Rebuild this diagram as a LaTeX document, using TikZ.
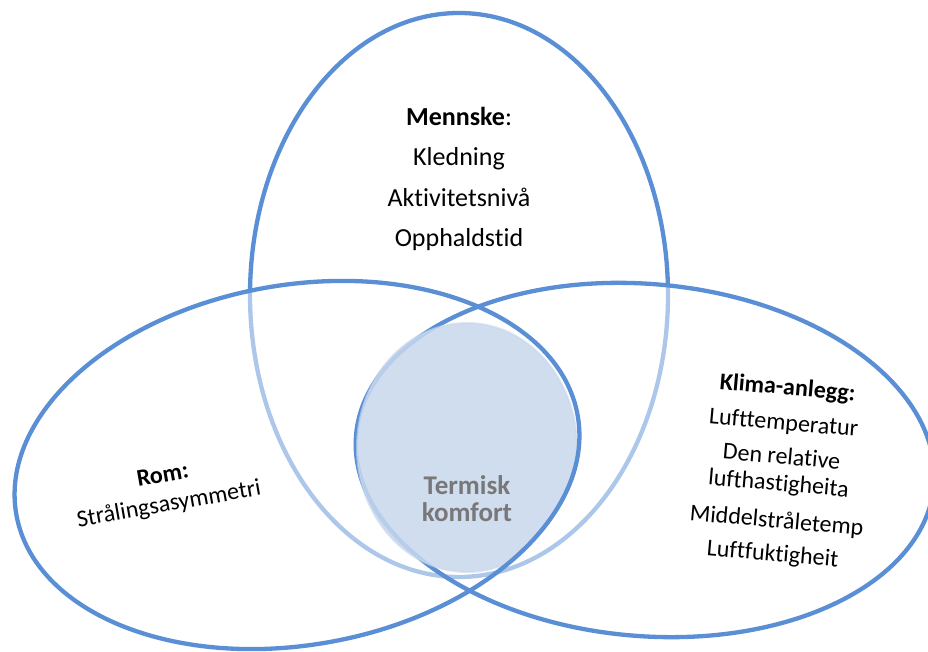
\documentclass[tikz,border=0pt]{standalone}
\usepackage{fontspec}
\setmainfont{Carlito}[Ligatures=NoCommon]
\definecolor{vblue}{RGB}{90,143,214}
\definecolor{cfill}{RGB}{200,216,237}
\definecolor{tgray}{RGB}{120,120,120}
\begin{document}
\begin{tikzpicture}[x=1pt,y=-1pt,
  ring/.style={draw=vblue, line width=4.3pt},
  bigtxt/.style={font=\fontsize{26}{30}\selectfont, inner sep=0pt, anchor=base},
  smalltxt/.style={font=\fontsize{24}{28}\selectfont, inner sep=0pt, anchor=base},
  comftxt/.style={font=\fontsize{27}{28}\selectfont\bfseries, text=tgray, inner sep=0pt, anchor=base}]
\useasboundingbox (0,0) rectangle (928,652);
\fill[white] (0,0) rectangle (928,652);
% top ellipse (Mennske)
\draw[ring] (459,295) ellipse [x radius=209, y radius=282];
% translucent white fill of the two lower ellipses
\fill[white, fill opacity=0.5]
  (297,465) ellipse [x radius=285, y radius=180, rotate=10]
  (645,460) ellipse [x radius=290, y radius=176, rotate=-5];
% right ellipse (Klima-anlegg)
\draw[ring] (645,460) ellipse [x radius=290, y radius=176, rotate=-5];
% centre circle
\begin{scope}
  \clip (297,465) ellipse [x radius=287, y radius=182, rotate=10];
  \fill[cfill, fill opacity=0.85, draw=cfill, draw opacity=0.6, line width=2pt]
    (467,447.5) ellipse [x radius=110, y radius=124.5];
\end{scope}
% left ellipse (Rom)
\draw[ring] (297,465) ellipse [x radius=285, y radius=180, rotate=10];
% texts
\node[bigtxt] (m1) at (459,126) {\textbf{Mennske}:};
\node[bigtxt] (m2) at (459,166) {Kledning};
\node[bigtxt] (m3) at (459,207) {Aktivitetsnivå};
\node[bigtxt] (m4) at (459,247) {Opphaldstid};
\node[smalltxt, rotate=10] (r1) at (164,482) {\textbf{Rom:}};
\node[smalltxt, rotate=10] (r2) at (170,511) {Strålingsasymmetri};
\node[smalltxt, rotate=-5] (k1) at (787,395) {\textbf{Klima-anlegg:}};
\node[smalltxt, rotate=-5] (k2) at (783,430) {Lufttemperatur};
\node[smalltxt, rotate=-5] (k3) at (781,464) {Den relative};
\node[smalltxt, rotate=-5] (k4) at (778,491) {lufthastigheita};
\node[smalltxt, rotate=-5] (k5) at (776,528) {Middelstråletemp};
\node[smalltxt, rotate=-5] (k6) at (772,561) {Luftfuktigheit};
\node[comftxt] (t1) at (467,494) {Termisk};
\node[comftxt] (t2) at (467,521) {komfort};
\end{tikzpicture}
\end{document}
